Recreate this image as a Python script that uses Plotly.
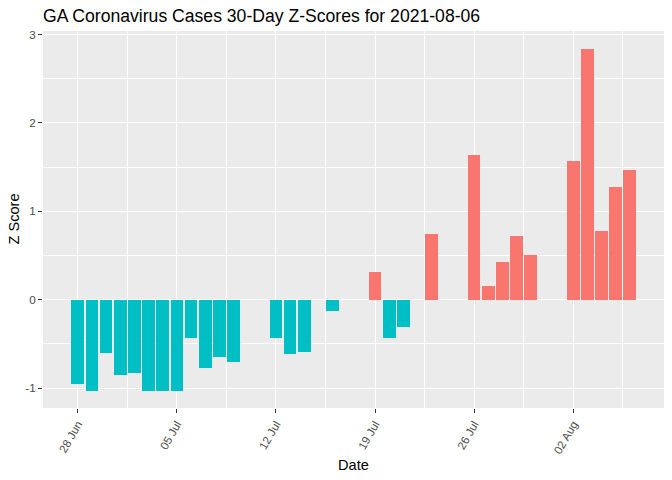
import pandas as pd
import plotly.graph_objects as go

# z-scores; days without a bar are left out
dates = [
    '2021-06-28', '2021-06-29', '2021-06-30', '2021-07-01', '2021-07-02',
    '2021-07-03', '2021-07-04', '2021-07-05', '2021-07-06', '2021-07-07',
    '2021-07-08', '2021-07-09', '2021-07-12', '2021-07-13', '2021-07-14',
    '2021-07-16', '2021-07-19', '2021-07-20', '2021-07-21', '2021-07-23',
    '2021-07-26', '2021-07-27', '2021-07-28', '2021-07-29', '2021-07-30',
    '2021-08-02', '2021-08-03', '2021-08-04', '2021-08-05', '2021-08-06',
]
z_scores = [
    -0.95, -1.03, -0.60, -0.85, -0.83,
    -1.03, -1.03, -1.03, -0.43, -0.77,
    -0.65, -0.71, -0.43, -0.61, -0.59,
    -0.13, 0.31, -0.43, -0.31, 0.74,
    1.64, 0.15, 0.43, 0.72, 0.50,
    1.57, 2.84, 0.78, 1.28, 1.47,
]
tick_dates = ['2021-06-28', '2021-07-05', '2021-07-12', '2021-07-19', '2021-07-26', '2021-08-02']
tick_labels = ['28 Jun', '05 Jul', '12 Jul', '19 Jul', '26 Jul', '02 Aug']
y_ticks = [-1, 0, 1, 2, 3]

POS_COLOR = '#F8766D'
NEG_COLOR = '#00BFC4'
DAY_MS = 86400000

W, H = 672, 480
L, R, T, B = 43, 8, 31, 72

df = pd.DataFrame({'date': pd.to_datetime(dates), 'z': z_scores})
df['color'] = [POS_COLOR if v > 0 else NEG_COLOR for v in df['z']]

fig = go.Figure()
fig.add_trace(go.Bar(
    x=df['date'], y=df['z'], width=0.9 * DAY_MS,
    marker=dict(color=df['color'], line=dict(width=0)),
    showlegend=False,
))

fig.update_layout(
    width=W, height=H,
    margin=dict(l=L, r=R, t=T, b=B, autoexpand=False),
    paper_bgcolor='white', plot_bgcolor='#EBEBEB',
    font=dict(family='Liberation Sans, Arial, sans-serif', color='black'),
    title=dict(text='GA Coronavirus Cases 30-Day Z-Scores for 2021-08-06',
               x=0, xref='paper', xanchor='left',
               y=1 - 16 / H, yref='container', yanchor='middle',
               font=dict(size=17.6, color='black')),
    bargap=0,
)

fig.update_xaxes(
    range=['2021-06-25 13:00', '2021-08-08 10:00'],
    tickmode='array', tickvals=tick_dates, ticktext=tick_labels,
    tickangle=-60, tickfont=dict(size=11.5, color='#4D4D4D'),
    ticks='outside', ticklen=4, tickcolor='#333333', tickwidth=1,
    showgrid=True, gridcolor='white', gridwidth=1.1,
    minor=dict(showgrid=True, gridcolor='white', gridwidth=0.55,
               tick0='2021-07-01 12:00', dtick=7 * DAY_MS),
    zeroline=False, showline=False, automargin=False,
)
fig.update_yaxes(
    range=[-1.226, 3.04],
    tickmode='array', tickvals=y_ticks, ticktext=[str(v) for v in y_ticks],
    tickfont=dict(size=11.7, color='#4D4D4D'),
    ticks='outside', ticklen=4, tickcolor='#333333', tickwidth=1,
    showgrid=True, gridcolor='white', gridwidth=1.1,
    minor=dict(showgrid=True, gridcolor='white', gridwidth=0.55,
               tick0=-0.5, dtick=1),
    zeroline=False, showline=False, automargin=False,
)

# axis titles placed like ggplot's
plot_w = W - L - R
plot_h = H - T - B
fig.add_annotation(text='Date', xref='paper', yref='paper',
                   x=0.5, y=-(465 - (H - B)) / plot_h,
                   xanchor='center', yanchor='middle', showarrow=False,
                   font=dict(size=14.6, color='black'))
fig.add_annotation(text='Z Score', xref='paper', yref='paper',
                   x=-(L - 13) / plot_w, y=0.5, textangle=-90,
                   xanchor='center', yanchor='middle', showarrow=False,
                   font=dict(size=14.6, color='black'))

# drop the browser's default body margin so the figure fills the window
fig.write_html('out.html', config={'displayModeBar': False},
               post_script="document.body.style.margin='0';")
